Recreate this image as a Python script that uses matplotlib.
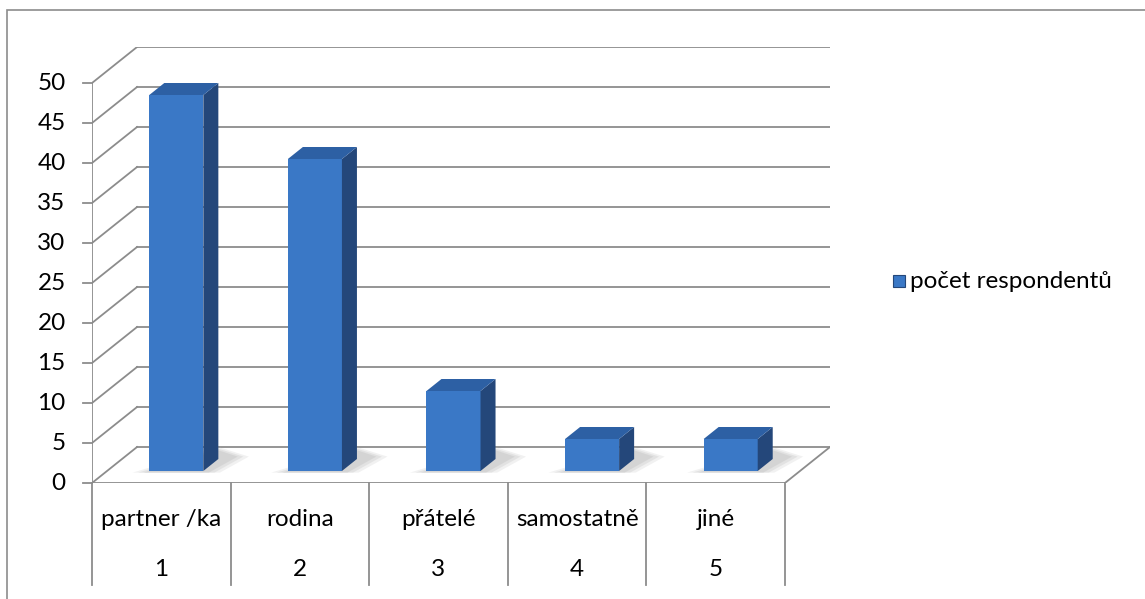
import matplotlib.pyplot as plt
from matplotlib.patches import Polygon, Rectangle

# DATA
categories = ["partner /ka", "rodina", "přátelé", "samostatně", "jiné"]
numbers = ["1", "2", "3", "4", "5"]
values = [47, 39, 10, 4, 4]
series_name = "počet respondentů"
yticks = list(range(0, 55, 5))

# STYLE
plt.rcParams['font.family'] = ['Lato', 'DejaVu Sans']
grid_col = "#8c8c8c"
front_col = "#3a78c6"
side_col = "#24477a"
top_col = "#2d60a4"
fs = 17.5

# oblique depth of the floor, in data units
D = 0.325
DY = 4.5
t0, t1 = 1 / 3, 2 / 3
w = 0.39

fig = plt.figure(figsize=(11.45, 5.99), dpi=100)
ax = fig.add_axes([92 / 1145, 1 - 483 / 599, 738 / 1145, 436 / 599])
ax.set_xlim(0, len(values) + D)
ax.set_ylim(0, 50 + DY)
ax.axis("off")

n = len(values)
# back wall gridlines + side diagonals
for v in yticks:
    ax.plot([D, n + D], [v + DY, v + DY], color=grid_col, lw=1.3, zorder=1)
    ax.plot([0, D], [v, v + DY], color=grid_col, lw=1.3, zorder=1)
    ax.plot([-0.065, 0], [v, v], color=grid_col, lw=1.3, zorder=1, clip_on=False)
    ax.text(-0.19, v, str(v), ha="right", va="center", fontsize=fs)
# front value axis and floor
ax.plot([0, 0], [0, 50], color=grid_col, lw=1.3, zorder=1)
ax.plot([0, n], [0, 0], color=grid_col, lw=1.3, zorder=1)
ax.plot([n, n + D], [0, DY], color=grid_col, lw=1.3, zorder=1)

# bars
for i, v in enumerate(values):
    c = i + 0.5
    x0 = c - w / 2 + t0 * D
    x1 = c + w / 2 + t0 * D
    y0 = t0 * DY
    dx = (t1 - t0) * D
    dy = (t1 - t0) * DY
    # soft shadow on the floor
    for k, a in enumerate([0.25, 0.35, 0.5]):
        g = 0.12 - k * 0.04
        ax.add_patch(Polygon([(x0 - g, y0 - 0.2), (x1 + g, y0 - 0.2),
                              (x1 + dx + 0.1 + g, y0 + dy + 0.3),
                              (x1 + dx, y0 + dy + 0.9 + g * 5)],
                             closed=True, fc="#c8c8c8", ec="none", alpha=a, zorder=2))
    ax.add_patch(Rectangle((x0, y0), x1 - x0, v, fc=front_col, ec="none", zorder=4))
    ax.add_patch(Polygon([(x1, y0), (x1 + dx, y0 + dy),
                          (x1 + dx, v + y0 + dy), (x1, v + y0)],
                         closed=True, fc=side_col, ec="none", zorder=4))
    ax.add_patch(Polygon([(x0, v + y0), (x1, v + y0),
                          (x1 + dx, v + y0 + dy), (x0 + dx, v + y0 + dy)],
                         closed=True, fc=top_col, ec="none", zorder=4))

# category table below the floor
for i in range(n + 1):
    ax.plot([i, i], [0, -12.75], color=grid_col, lw=1.3, clip_on=False)
for i in range(n):
    ax.text(i + 0.5, -4.6, categories[i], ha="center", va="center", fontsize=fs)
    ax.text(i + 0.5, -10.8, numbers[i], ha="center", va="center", fontsize=fs)

# legend
fig.patches.append(Rectangle((893 / 1145, 1 - 287 / 599), 12 / 1145, 12 / 599,
                             transform=fig.transFigure, fc=front_col, ec=side_col, lw=0.8))
fig.text(910 / 1145, 1 - 281 / 599, series_name, ha="left", va="center", fontsize=fs)

# chart area border (only top and left visible)
fig.patches.append(Rectangle((7 / 1145, -0.05), 1.2, 1 - 10 / 599 + 0.05,
                             transform=fig.transFigure, fill=False, ec="#8c8c8c", lw=1.2))

fig.savefig("out.png", dpi=100)
